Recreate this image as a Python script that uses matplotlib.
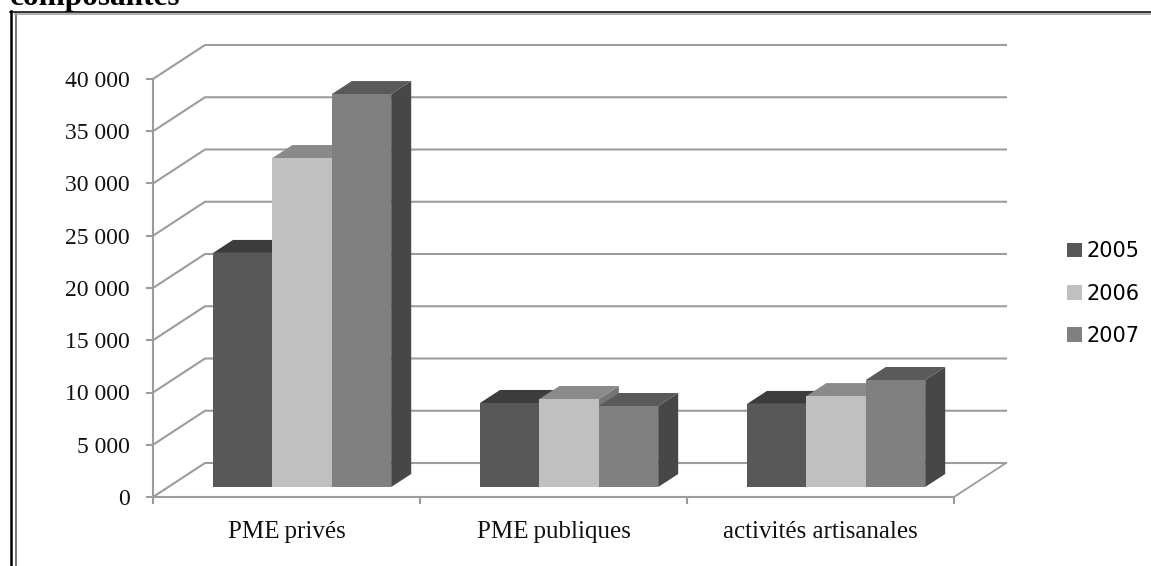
import matplotlib
matplotlib.use('Agg')
import numpy as np
import matplotlib.pyplot as plt
from matplotlib.patches import Polygon, Patch
from matplotlib.lines import Line2D

W, H = 1151, 566

categories = ['PME\u2009privés', 'PME\u2009publiques', 'activités artisanales']
years = ['2005', '2006', '2007']
values_2005 = [22400, 8040, 7950]
values_2006 = [31480, 8420, 8700]
values_2007 = [37600, 7750, 10240]
y_ticks = [0, 5000, 10000, 15000, 20000, 25000, 30000, 35000, 40000]
y_labels = ['0', '5 000', '10 000', '15 000', '20 000',
            '25 000', '30 000', '35 000', '40 000']

front_colors = ['#585858', '#c0c0c0', '#808080']
top_colors = ['#3c3c3c', '#8a8a8a', '#5a5a5a']
side_colors = ['#3a3a3a', '#767676', '#474747']
grid_color = '#9c9c9c'

plt.rcParams['font.family'] = ['Liberation Serif', 'DejaVu Sans']

fig = plt.figure(figsize=(W / 100, H / 100), dpi=100)

# axes box = front floor of the fake 3D chart
left, right, bottom, top = 153, 954, 497, 79
ax = fig.add_axes([left / W, 1 - bottom / H, (right - left) / W, (bottom - top) / H])
ax.set_xlim(0, 3)
ax.set_ylim(0, 40000)
ax.patch.set_visible(False)

px_x = 3 / (right - left)
px_y = 40000 / (bottom - top)

# wall depth and bar depth
wall_dx, wall_dy = 52 * px_x, 34 * px_y
base_dy = 10 * px_y
bar_dx, bar_dy = 20 * px_x, 13 * px_y
gap = 60 * px_x
bar_w = 59.4 * px_x

# back wall lines
for t in y_ticks:
    ax.plot([0, wall_dx, 3 + wall_dx], [t, t + wall_dy, t + wall_dy], color=grid_color, lw=1.5,
            clip_on=False, zorder=1, solid_joinstyle='miter')
ax.plot([3, 3 + wall_dx], [0, wall_dy], color=grid_color, lw=1.3, clip_on=False, zorder=1)

# the bars, painted left to right
series = [values_2005, values_2006, values_2007]
for i in range(len(categories)):
    for j, vals in enumerate(series):
        x0 = i + gap + j * bar_w
        x1 = x0 + bar_w
        y0 = base_dy
        y1 = base_dy + vals[i]
        side = Polygon([(x1, y0), (x1 + bar_dx, y0 + bar_dy), (x1 + bar_dx, y1 + bar_dy), (x1, y1)],
                       fc=side_colors[j], ec='none', clip_on=False, zorder=2 + j)
        roof = Polygon([(x0, y1), (x0 + bar_dx, y1 + bar_dy), (x1 + bar_dx, y1 + bar_dy), (x1, y1)],
                       fc=top_colors[j], ec='none', clip_on=False, zorder=2 + j)
        ax.add_patch(side)
        ax.add_patch(roof)
        ax.bar(x0, vals[i], width=bar_w, bottom=y0, align='edge', color=front_colors[j],
               clip_on=False, zorder=2 + j)

for s in ['top', 'right']:
    ax.spines[s].set_visible(False)
for s in ['left', 'bottom']:
    ax.spines[s].set_color(grid_color)
    ax.spines[s].set_linewidth(1.5)

ax.set_yticks(y_ticks)
ax.set_yticklabels(y_labels, fontsize=17, color='#111111')
ax.set_xticks([0, 1, 2, 3])
ax.set_xticklabels([])
ax.set_xticks([0.5, 1.5, 2.5], minor=True)
ax.set_xticklabels(categories, minor=True, fontsize=18, color='#111111')
ax.tick_params(axis='y', color=grid_color, width=1.5, length=5, pad=12)
ax.tick_params(axis='x', which='major', color=grid_color, width=1.5, length=5)
ax.tick_params(axis='x', which='minor', length=0, pad=17)

# legend
handles = [Patch(fc=c, ec='none') for c in front_colors]
leg = fig.legend(handles, years, loc='center left', bbox_to_anchor=(1067 / W, 1 - 293.5 / H), frameon=False,
                 prop={'family': 'DejaVu Sans', 'size': 15}, handlelength=0.7, handleheight=0.7,
                 labelspacing=1.07, handletextpad=0.26, borderpad=0, borderaxespad=0)

# frame of the document box and the clipped title above it
def frame_line(xs, ys, color, lw):
    fig.add_artist(Line2D([x / W for x in xs], [1 - y / H for y in ys], color=color, lw=lw))

frame_line([16, 16], [13, H], '#777777', 1.4)
frame_line([15, W], [13.8, 13.8], '#a8a8a8', 1.3)
frame_line([10.7, 10.7], [11, H], 'black', 1.8)
frame_line([9.5, W], [11.8, 11.8], 'black', 1.1)

fig.text(10 / W, 1 - 4.5 / H, 'composantes', fontsize=22.5, fontweight='bold', color='black',
         ha='left', va='baseline')

fig.savefig('out.png', dpi=100)
